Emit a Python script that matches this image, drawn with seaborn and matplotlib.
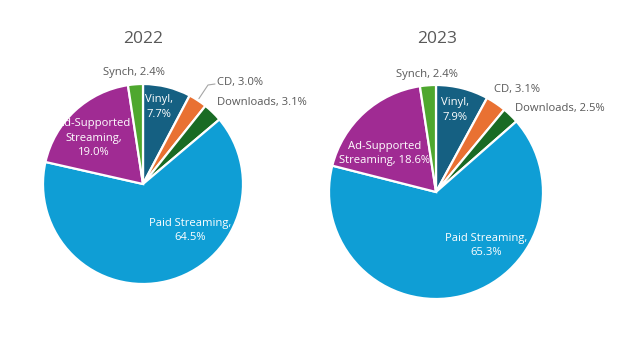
import numpy as np
import matplotlib
matplotlib.use("Agg")
import matplotlib.pyplot as plt
import matplotlib.patches as mpatches
import seaborn as sns

# ---- data ----
categories = ["Vinyl", "CD", "Downloads", "Paid Streaming", "Ad-Supported Streaming", "Synch"]
years = ["2022", "2023"]
values_2022 = [7.7, 3.0, 3.1, 64.5, 19.0, 2.4]
values_2023 = [7.9, 3.1, 2.5, 65.3, 18.6, 2.4]

# label texts (line breaks as in the chart)
labels_2022 = ["Vinyl,\n7.7%", "CD, 3.0%", "Downloads, 3.1%", "Paid Streaming,\n64.5%",
               "Ad-Supported\nStreaming,\n19.0%", "Synch, 2.4%"]
labels_2023 = ["Vinyl,\n7.9%", "CD, 3.1%", "Downloads, 2.5%", "Paid Streaming,\n65.3%",
               "Ad-Supported\nStreaming, 18.6%", "Synch, 2.4%"]

# ---- style / layout ----
sns.set_theme(style="white")
plt.rcParams['font.family'] = ['Open Sans', 'DejaVu Sans']
palette = sns.color_palette(["#156082", "#E97132", "#196B24", "#0F9ED5", "#A02B93", "#4EA72E"])
inside = [True, False, False, True, True, False]
GRAY = "#595959"

# label positions in units of radius (x, y, ha)
pos_2022 = [(0.16, 0.77, "center"), (0.74, 1.01, "left"), (0.74, 0.82, "left"),
            (0.47, -0.465, "center"), (-0.49, 0.46, "center"), (-0.09, 1.11, "center")]
pos_2023 = [(0.173, 0.766, "center"), (0.54, 0.96, "left"), (0.74, 0.785, "left"),
            (0.47, -0.50, "center"), (-0.48, 0.36, "center"), (-0.084, 1.10, "center")]

W, H = 633, 341
fig = plt.figure(figsize=(W / 100, H / 100), dpi=100)
fig.patch.set_facecolor("white")

panels = [
    (values_2022, labels_2022, pos_2022, (143, 184, 100), (143, 39), True),
    (values_2023, labels_2023, pos_2023, (436, 192, 107), (437, 39), False),
]

for (vals, labs, pos, (cx, cy, r), (tx, ty), leader), year in zip(panels, years):
    ax = fig.add_axes([(cx - r) / W, (H - cy - r) / H, 2 * r / W, 2 * r / H])
    wedges, _ = ax.pie(vals, colors=palette, startangle=90, counterclock=False,
                       wedgeprops=dict(edgecolor="white", linewidth=1.6))
    ax.set_xlim(-1, 1)
    ax.set_ylim(-1, 1)
    ax.set_aspect("equal")
    ax.axis("off")
    disk = mpatches.Circle((0, 0), 1.0, transform=ax.transData)
    for lab, (lx, ly, ha), ins in zip(labs, pos, inside):
        t = ax.text(lx, ly, lab, ha=ha, va="center", fontsize=8.1,
                    color="white" if ins else GRAY, linespacing=1.4, clip_on=ins)
        if ins:
            t.set_clip_path(disk)
    if leader:
        w = wedges[1]
        th = np.deg2rad((w.theta1 + w.theta2) / 2)
        x0, y0 = 1.02 * np.cos(th), 1.02 * np.sin(th)
        ax.plot([x0, 0.65, 0.72], [y0, 0.99, 1.0], color="#A6A6A6", lw=0.8, clip_on=False)
    fig.text(tx / W, 1 - ty / H, year, ha="center", va="center", fontsize=12.5, color=GRAY)

fig.savefig("out.png", dpi=100, facecolor="white")
